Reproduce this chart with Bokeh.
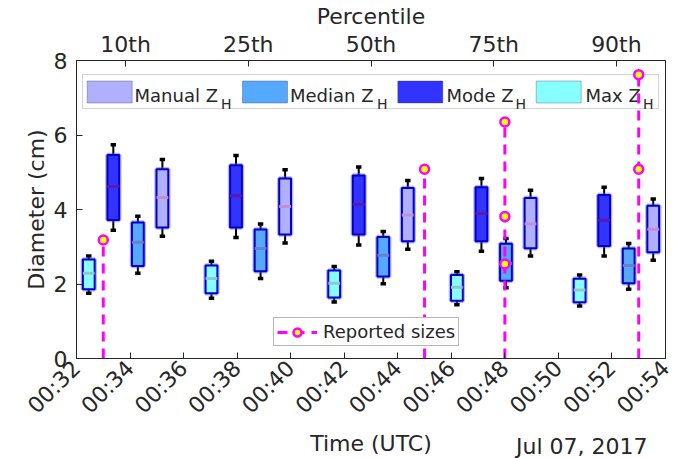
from datetime import datetime

import numpy as np
from bokeh.embed import file_html
from bokeh.models import (BoxAnnotation, DatetimeTickFormatter, FixedTicker, Label,
                          Legend, LegendItem, LinearAxis, Range1d)
from bokeh.plotting import figure
from bokeh.resources import INLINE

# ---- data -------------------------------------------------------------
percentiles = ["10th", "25th", "50th", "75th", "90th"]

# box statistics in cm: lower whisker, Q1, median, Q3, upper whisker
max_lo = [1.75, 1.62, 1.52, 1.44, 1.41]
max_q1 = [1.86, 1.75, 1.64, 1.55, 1.51]
max_med = [2.29, 2.15, 2.02, 1.91, 1.84]
max_q3 = [2.66, 2.50, 2.36, 2.24, 2.14]
max_hi = [2.75, 2.61, 2.47, 2.33, 2.24]

mode_lo = [3.44, 3.25, 3.05, 2.88, 2.75]
mode_q1 = [3.72, 3.52, 3.33, 3.15, 3.02]
mode_med = [4.62, 4.37, 4.14, 3.89, 3.71]
mode_q3 = [5.46, 5.19, 4.91, 4.60, 4.39]
mode_hi = [5.74, 5.45, 5.14, 4.83, 4.60]

median_lo = [2.29, 2.15, 2.01, 1.90, 1.86]
median_q1 = [2.48, 2.34, 2.20, 2.09, 2.02]
median_med = [3.12, 2.95, 2.77, 2.55, 2.50]
median_q3 = [3.65, 3.46, 3.26, 3.08, 2.95]
median_hi = [3.82, 3.61, 3.41, 3.22, 3.09]

manual_lo = [3.28, 3.10, 2.93, 2.75, 2.64]
manual_q1 = [3.52, 3.33, 3.15, 2.96, 2.85]
manual_med = [4.32, 4.08, 3.85, 3.62, 3.47]
manual_q3 = [5.08, 4.83, 4.58, 4.31, 4.10]
manual_hi = [5.34, 5.07, 4.78, 4.52, 4.28]

# hail reports (time in UTC, size in cm)
reported_times = ["00:33", "00:45", "00:48", "00:48", "00:48", "00:53", "00:53"]
reported_sizes = [3.18, 5.08, 6.35, 3.81, 2.54, 7.62, 5.08]

time_ticks = ["00:32", "00:34", "00:36", "00:38", "00:40", "00:42",
              "00:44", "00:46", "00:48", "00:50", "00:52", "00:54"]
time_title = "Time (UTC)"
date_text = "Jul 07, 2017"

# ---- helpers ------------------------------------------------------------
FONT = "DejaVu Sans"
TXT = "#262626"


def to_dt(hhmm):
    h, m = hhmm.split(":")
    return datetime(2017, 7, 7, int(h), int(m))


def to_ms(dt):
    return (dt - datetime(1970, 1, 1)).total_seconds() * 1000.0


tick_dts = [to_dt(t) for t in time_ticks]
rep_dts = [to_dt(t) for t in reported_times]

# ---- figure -------------------------------------------------------------
p = figure(width=692, height=458, x_axis_type="datetime",
           x_range=Range1d(tick_dts[0], tick_dts[-1]), y_range=Range1d(0, 8),
           output_backend="svg", toolbar_location=None,
           min_border_left=76, min_border_right=27,
           min_border_top=60, min_border_bottom=100)
p.extra_x_ranges = {"pct": Range1d(0.6, 5.4)}
p.xgrid.visible = False
p.ygrid.visible = False
p.outline_line_color = TXT
p.outline_line_width = 1
p.background_fill_color = "white"
p.border_fill_color = "white"

# bottom time axis (ticks only; its title sits on the caption line below)
xa = p.xaxis[0]
xa.ticker = FixedTicker(ticks=[to_ms(d) for d in tick_dts])
xa.formatter = DatetimeTickFormatter(seconds="%H:%M", minsec="%H:%M", minutes="%H:%M",
                                     hourmin="%H:%M", hours="%H:%M")
xa.major_label_orientation = np.pi / 4

# top percentile axis
pct_pos = list(range(1, len(percentiles) + 1))
top = LinearAxis(x_range_name="pct", ticker=FixedTicker(ticks=pct_pos),
                 major_label_overrides={k: lab for k, lab in zip(pct_pos, percentiles)},
                 axis_label="Percentile")
p.add_layout(top, "above")

ya = p.yaxis[0]
ya.ticker = FixedTicker(ticks=[0, 2, 4, 6, 8])
ya.axis_label = "Diameter (cm)"

for ax in (xa, top, ya):
    ax.major_tick_in = 6
    ax.major_tick_out = 0
    ax.minor_tick_in = 0
    ax.minor_tick_out = 0
    ax.axis_line_color = TXT
    ax.major_tick_line_color = TXT
    ax.major_label_text_font = FONT
    ax.major_label_text_font_size = "22px"
    ax.major_label_text_color = TXT
    ax.axis_label_text_font = FONT
    ax.axis_label_text_font_size = "22px"
    ax.axis_label_text_font_style = "normal"
    ax.axis_label_text_color = TXT
top.major_label_standoff = 4
top.axis_label_standoff = 0
ya.major_label_standoff = 9
ya.axis_label_standoff = 2
xa.major_label_standoff = 6

# ---- boxes --------------------------------------------------------------
series = [
    # label, fill, median colour, offset, stats
    ("Max", "#88FFFF", "#93C6C8", -0.3, max_lo, max_q1, max_med, max_q3, max_hi),
    ("Mode", "#3333FF", "#5A1AB0", -0.1, mode_lo, mode_q1, mode_med, mode_q3, mode_hi),
    ("Median", "#55AAFF", "#6B80C6", 0.1, median_lo, median_q1, median_med, median_q3, median_hi),
    ("Manual", "#B0B0FF", "#C88CD0", 0.3, manual_lo, manual_q1, manual_med, manual_q3, manual_hi),
]
half_w = 0.048
cap_w = 0.022

for name, fill, medc, off, lo, q1, med, q3, hi in series:
    xs = [k + off for k in pct_pos]
    # whiskers and caps
    p.segment(x0=xs, x1=xs, y0=lo, y1=q1, line_color="black", line_width=2, x_range_name="pct")
    p.segment(x0=xs, x1=xs, y0=q3, y1=hi, line_color="black", line_width=2, x_range_name="pct")
    xl = [x - cap_w for x in xs]
    xr = [x + cap_w for x in xs]
    p.segment(x0=xl, x1=xr, y0=lo, y1=lo, line_color="black", line_width=3.5, x_range_name="pct")
    p.segment(x0=xl, x1=xr, y0=hi, y1=hi, line_color="black", line_width=3.5, x_range_name="pct")
    # box with soft blue halo
    bl = [x - half_w for x in xs]
    br = [x + half_w for x in xs]
    p.quad(left=bl, right=br, bottom=q1, top=q3, fill_alpha=0, line_color="#5555FF",
           line_alpha=0.45, line_width=4.5, x_range_name="pct")
    p.quad(left=bl, right=br, bottom=q1, top=q3, fill_color=fill, line_color="#0000C8",
           line_width=2, x_range_name="pct")
    p.segment(x0=bl, x1=br, y0=med, y1=med, line_color=medc, line_width=3, x_range_name="pct")

# ---- reports ------------------------------------------------------------
line_tops = {}
for t, s in zip(rep_dts, reported_sizes):
    line_tops[t] = max(s, line_tops.get(t, 0))
lt = list(line_tops.keys())
seg_r = p.segment(x0=lt, x1=lt, y0=[0] * len(lt), y1=[line_tops[t] for t in lt],
                  line_color="#FF00FF", line_width=3, line_dash="10 7")
pt_r = p.scatter(rep_dts, reported_sizes, marker="circle", size=9, fill_color="#FFFF00",
                 line_color="#FF00FF", line_width=2.5)

rep_legend = Legend(items=[LegendItem(label="Reported sizes", renderers=[seg_r, pt_r])],
                    location=(197, 12), orientation="vertical",
                    border_line_color="#6E6E6E", border_line_width=1,
                    background_fill_color="white", background_fill_alpha=1,
                    label_text_font=FONT, label_text_font_size="18px", label_text_color=TXT,
                    glyph_width=40, glyph_height=20, label_height=20,
                    padding=3, margin=0, spacing=0, label_standoff=6)
p.add_layout(rep_legend)

# ---- legend for the boxes (screen units, frame origin at bottom left) ----
leg_box = BoxAnnotation(left=6, right=582, bottom=250, top=284,
                        left_units="screen", right_units="screen",
                        bottom_units="screen", top_units="screen",
                        fill_color="white", fill_alpha=1,
                        line_color="#6E6E6E", line_width=1, level="underlay")
p.add_layout(leg_box)

legend_entries = [
    # label, fill, patch left, text left, subscript left
    ("Manual Z", "#B0B0FF", 10.7, 58, 144.5),
    ("Median Z", "#55AAFF", 166, 213.5, 300.5),
    ("Mode Z", "#3333FF", 321.3, 370, 439),
    ("Max Z", "#88FFFF", 459.7, 509, 566.5),
]
for text, fill, pl, tl, sl in legend_entries:
    p.add_layout(BoxAnnotation(left=pl, right=pl + 45, bottom=255.5, top=277.5,
                               left_units="screen", right_units="screen",
                               bottom_units="screen", top_units="screen",
                               fill_color=fill, fill_alpha=1, line_color=TXT,
                               line_width=1, level="underlay"))
    p.add_layout(Label(x=tl, y=263, x_units="screen", y_units="screen", text=text,
                       text_font=FONT, text_font_size="18px", text_color=TXT,
                       text_baseline="alphabetic", level="underlay"))
    p.add_layout(Label(x=sl, y=254.7, x_units="screen", y_units="screen", text="H",
                       text_font=FONT, text_font_size="14px", text_color=TXT,
                       text_baseline="alphabetic", level="underlay"))

# ---- caption line under the tick labels ----------------------------------
# date stamp, right of centre, in its own side panel
p.add_layout(Label(x=439.5, y=9, x_units="screen", y_units="screen", text=date_text,
                   text_font=FONT, text_font_size="22px", text_color=TXT,
                   text_baseline="alphabetic"), "below")
# centred axis title, pulled up onto the same line as the date
title_axis = LinearAxis(ticker=FixedTicker(ticks=[]), axis_label=time_title,
                        axis_line_color=None, major_tick_in=0, major_tick_out=0,
                        minor_tick_in=0, minor_tick_out=0, major_label_standoff=0,
                        axis_label_standoff=-25, axis_label_text_font=FONT,
                        axis_label_text_font_size="22px", axis_label_text_font_style="normal",
                        axis_label_text_color=TXT)
p.add_layout(title_axis, "below")

open("out.html", "w").write(file_html(p, INLINE))
